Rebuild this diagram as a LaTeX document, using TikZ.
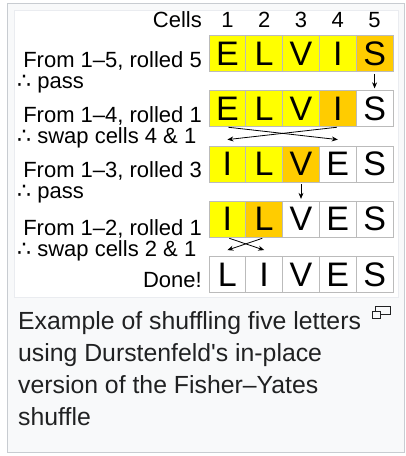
\documentclass[tikz,border=0pt]{standalone}
\usepackage{fontspec}
\setmainfont{Liberation Sans}[Ligatures=TeXOff]
\newfontfamily\dejavu{DejaVu Sans}
\usetikzlibrary{arrows.meta}
\definecolor{cellyellow}{HTML}{FFFF00}
\definecolor{cellorange}{HTML}{FFCC00}
\definecolor{cellline}{HTML}{BBBBBB}
\definecolor{framefill}{HTML}{F8F9FA}
\definecolor{frameline}{HTML}{C8CCD1}
\definecolor{boxline}{HTML}{EAECF0}
\definecolor{captext}{HTML}{202122}
\tikzset{
  cell/.style={draw=cellline,line width=0.8pt,minimum width=36.8pt,minimum height=36pt,inner sep=0pt,font=\fontsize{34}{34}\selectfont},
  lbl/.style={inner sep=0pt,font=\fontsize{22}{22}\selectfont},
  mv/.style={->,line width=0.8pt},
}
\begin{document}
\begin{tikzpicture}[>={Stealth[length=6pt,width=5pt]},x=1pt,y=-1pt]
	\def\w{36.8} % cell width
	\def\h{55.25} % row step
	\useasboundingbox (0,0) rectangle (406,456);
	\draw[frameline,fill=framefill,line width=1pt] (7.5,3.5) rectangle (404.5,452.5);
	\draw[boxline,fill=white,line width=1pt] (14,10) rectangle (398,297);
	\node[lbl,anchor=east] (head) at (202,20) {Cells};
	\foreach \j in {1,...,5}
		\node[lbl] (n\j) at ({209+\w*(\j-0.5)},20) {\j};
	\foreach \r/\a/\b/\c/\d/\e/\k in {1/E/L/V/I/S/5,2/E/L/V/I/S/4,3/I/L/V/E/S/3,4/I/L/V/E/S/2,5/L/I/V/E/S/0}
		\foreach \j/\t in {1/\a,2/\b,3/\c,4/\d,5/\e}{
			\ifnum\j<\k \def\cc{cellyellow}\else\ifnum\j=\k \def\cc{cellorange}\else\def\cc{white}\fi\fi
			\node[cell,fill=\cc] (c\r-\j) at ({209+\w*(\j-0.5)},{53.5+\h*(\r-1)}) {\t};
		}
	\node[lbl,anchor=base east] (l1) at (202,67) {From 1–5, rolled 5};
	\node[lbl,anchor=base west] (p1) at (17,88) {{\dejavu ∴} pass};
	\node[lbl,anchor=base east] (l2) at (202,122) {From 1–4, rolled 1};
	\node[lbl,anchor=base west] (p2) at (17,143) {{\dejavu ∴} swap cells 4 \& 1};
	\node[lbl,anchor=base east] (l3) at (202,177) {From 1–3, rolled 3};
	\node[lbl,anchor=base west] (p3) at (17,198) {{\dejavu ∴} pass};
	\node[lbl,anchor=base east] (l4) at (202,235) {From 1–2, rolled 1};
	\node[lbl,anchor=base west] (p4) at (17,256) {{\dejavu ∴} swap cells 2 \& 1};
	\node[lbl,anchor=base east] (l5) at (202,287) {Done!};
	\draw[mv,shorten <=2pt,shorten >=2pt] (c1-5.south) -- (c2-5.north);
	\draw[mv,shorten <=1pt] (c2-1.south) -- ([yshift=6pt]c3-4.north);
	\draw[mv,shorten <=1pt] (c2-4.south) -- ([yshift=6pt]c3-1.north);
	\draw[mv,shorten <=2pt,shorten >=2pt] (c3-3.south) -- (c4-3.north);
	\draw[mv,shorten <=2pt] (c4-1.south) -- ([yshift=6pt]c5-2.north);
	\draw[mv,shorten <=2pt] (c4-2.south) -- ([yshift=6pt]c5-1.north);
	\node[anchor=north west,align=left,inner sep=0pt,text=captext,font=\fontsize{24.8}{32}\selectfont] (cap) at (18,311) {Example of shuffling five letters\\using Durstenfeld's in-place\\version of the Fisher–Yates\\shuffle};
	\draw[captext,line width=0.9pt] (375.5,306) rectangle (390,314.5);
	\draw[captext,line width=0.9pt,fill=framefill] (372,311) rectangle (380,318.5);
\end{tikzpicture}
\end{document}
